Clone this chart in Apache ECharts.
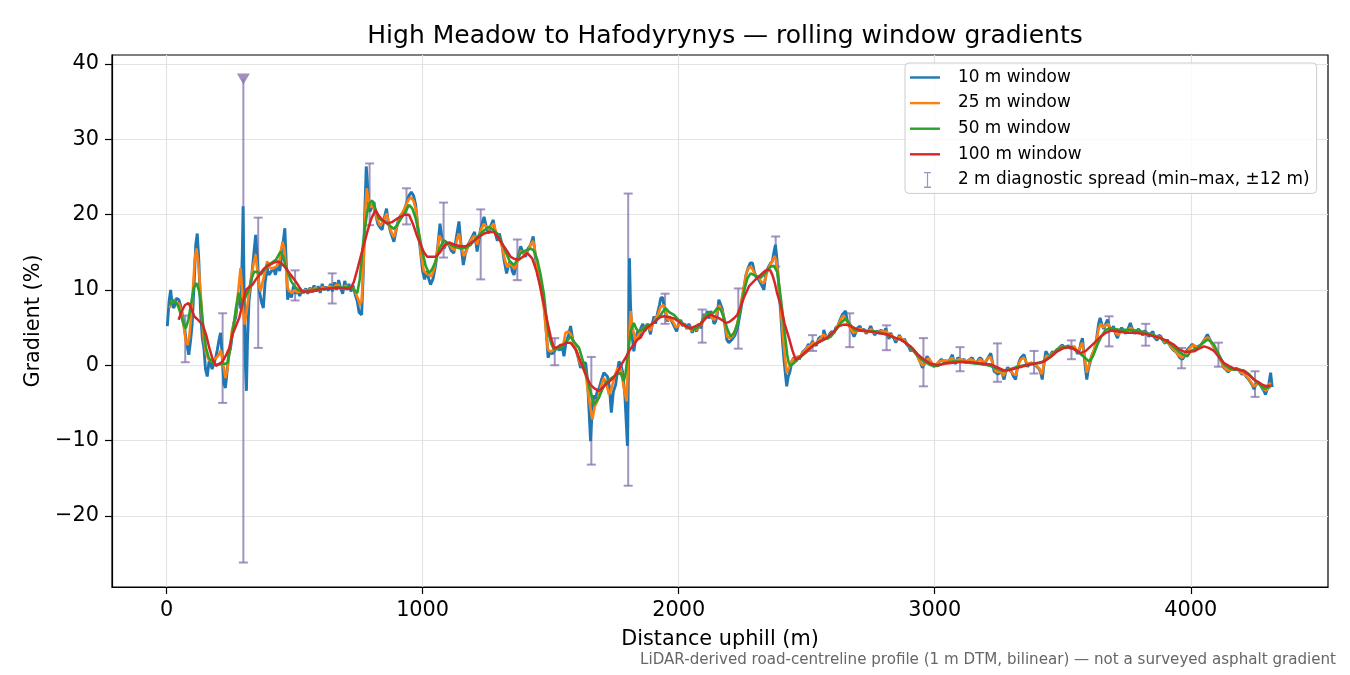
<!DOCTYPE html>
<html>
<head>
<meta charset="utf-8">
<title>High Meadow to Hafodyrynys — rolling window gradients</title>
<script src="https://cdn.jsdelivr.net/npm/echarts@6/dist/echarts.min.js"></script>
<style>
  html, body { margin: 0; padding: 0; background: #fff; }
  #chart { width: 1350px; height: 675px; }
</style>
</head>
<body>
<div id="chart"></div>
<script>
// rolling-window gradient profiles, [distance m, gradient %]
const w10 = [[3,5.2],[10,8.5],[16,10.0],[22,8.0],[29,7.6],[38,8.9],[48,8.7],[58,7.5],[68,5.4],[78,3.0],[87,1.4],[93,3.0],[100,5.4],[108,11],[114,16],[120,17.5],[126,14],[133,7],[140,3.5],[146,2.3],[152,-0.5],[159,-1.5],[166,0.5],[172,0.2],[178,-0.5],[185,-0.35],[192,1.0],[198,2.0],[204,3.2],[211,4.3],[217,1.5],[224,-2.5],[230,-3.0],[236,-1],[243,1.5],[250,2.3],[258,4.5],[265,5.8],[270,6.3],[278,8.5],[285,9.0],[290,7.5],[296,15],[299,21.1],[303,10],[308,0],[312,-3.4],[316,3],[322,8.5],[330,11],[340,14.5],[348,17.3],[355,14],[362,10],[370,8.5],[378,7.6],[385,11],[393,12.9],[400,12.0],[410,12.5],[418,13.0],[425,12.0],[435,13.5],[442,12.5],[450,14.5],[456,16.5],[462,18.2],[467,14],[473,8.7],[480,9.8],[488,9.0],[496,10.5],[504,9.5],[512,10.0],[520,9.2],[528,9.9],[536,9.6],[544,10.2],[552,9.5],[560,10.3],[568,9.7],[576,10.6],[584,9.8],[592,10.5],[600,9.6],[608,10.8],[616,10.0],[624,10.4],[632,9.9],[640,10.8],[648,9.8],[656,11.0],[664,10.0],[672,11.3],[680,10.2],[688,9.5],[696,11.2],[704,10.0],[712,10.8],[720,9.8],[728,10.6],[736,9.5],[745,8.5],[752,7.0],[762,6.7],[768,12],[774,20],[780,26.4],[785,24],[790,21],[794,20.4],[802,21.0],[810,21.7],[817,20],[825,18.8],[834,18.3],[842,18.0],[850,19.5],[859,20.8],[866,19],[875,17.7],[882,17.0],[888,16.4],[897,18],[907,19.5],[917,20.0],[927,20.4],[937,21.5],[946,22.5],[956,23.0],[965,22.5],[973,21.3],[982,18],[992,15.1],[1000,12.5],[1008,11.4],[1016,12.5],[1024,11.5],[1031,10.7],[1041,11.5],[1051,13.3],[1060,16],[1068,18.8],[1075,17],[1083,15.5],[1093,16.2],[1103,16.0],[1112,15.2],[1122,14.9],[1132,17],[1142,19.1],[1150,16],[1159,13.3],[1168,15],[1178,16.0],[1190,16.8],[1203,17.7],[1213,15.1],[1226,18],[1240,19.7],[1250,18.2],[1258,17.5],[1266,18.5],[1276,19.3],[1284,17.5],[1292,16.5],[1300,17.5],[1310,16.0],[1318,14],[1328,12.2],[1337,13.5],[1344,13.8],[1350,12.5],[1357,12.0],[1363,12.2],[1370,14],[1383,15.8],[1392,15],[1402,14.4],[1412,15.5],[1422,16],[1432,17.1],[1440,14.5],[1450,12],[1462,10.5],[1474,8.5],[1482,5],[1490,1.0],[1498,1.8],[1507,1.5],[1516,2.0],[1526,2.3],[1535,2.0],[1545,2.5],[1552,1.2],[1560,3],[1570,4],[1578,5.2],[1586,3.5],[1594,2.5],[1604,1.5],[1617,-0.35],[1627,0.3],[1637,0.3],[1644,-2],[1650,-6],[1656,-10.1],[1662,-6],[1669,-4],[1675,-4.5],[1682,-3.5],[1690,-3.0],[1698,-2.0],[1708,-1.0],[1715,-0.8],[1722,-1.5],[1730,-3],[1737,-6.3],[1745,-3.5],[1754,-2.6],[1760,-1],[1767,0.5],[1775,0],[1782,-1],[1790,-4],[1796,-8],[1800,-10.7],[1804,0],[1808,14.2],[1812,8],[1818,4],[1825,1.85],[1832,3.5],[1840,4.5],[1846,3.5],[1852,4.9],[1860,5.5],[1868,4.5],[1877,5.5],[1884,5.0],[1890,4.1],[1897,5.5],[1904,6.5],[1910,5.5],[1918,7],[1925,8],[1930,8.9],[1938,9.0],[1944,7.5],[1950,7],[1956,5.8],[1963,6.5],[1970,6.5],[1978,5.5],[1985,5.0],[1992,4.5],[2000,5.5],[2008,6.0],[2016,5.2],[2024,5.5],[2032,4.8],[2040,5.5],[2047,5.0],[2053,4.3],[2060,5.0],[2070,4.5],[2080,5.5],[2086,4.9],[2094,6.0],[2100,6.8],[2106,6.5],[2112,7.2],[2120,6.2],[2125,7.2],[2132,6.5],[2138,5.5],[2144,5.8],[2150,6.5],[2157,8.7],[2164,8.9],[2170,7.5],[2178,6],[2188,3.4],[2196,3.0],[2203,3.2],[2210,3.5],[2220,4.0],[2230,5],[2242,7.2],[2255,10.2],[2263,12],[2271,12.9],[2280,13.6],[2288,13.6],[2295,12.5],[2301,11.8],[2310,11.5],[2318,11.0],[2326,10.5],[2333,10.0],[2340,12],[2350,13],[2358,13.5],[2366,13.8],[2372,15],[2378,16.0],[2384,14],[2390,11],[2398,7.2],[2406,3.0],[2412,0.5],[2418,-1.5],[2422,-2.8],[2428,-1.5],[2435,-0.8],[2442,0.5],[2450,1.0],[2458,0.5],[2465,1.2],[2472,0.8],[2477,1.0],[2485,1.8],[2493,2.0],[2500,2.3],[2507,2.8],[2515,2.5],[2522,3.2],[2530,2.8],[2538,2.6],[2546,3.5],[2555,3.8],[2563,3.5],[2567,4.7],[2575,3.8],[2582,3.5],[2590,4.2],[2598,4.5],[2606,4.2],[2614,5.0],[2622,5.2],[2630,6.0],[2639,6.7],[2646,6.8],[2652,7.2],[2660,5.5],[2668,5.2],[2676,4.5],[2685,3.8],[2692,4.0],[2700,5.0],[2708,5.2],[2716,4.5],[2724,4.8],[2732,4.2],[2740,4.5],[2750,5.2],[2758,4.5],[2766,4.0],[2775,4.6],[2783,4.2],[2790,4.7],[2800,4.2],[2809,4.9],[2816,4.0],[2822,3.5],[2828,4.3],[2835,3.8],[2842,3.5],[2848,3.0],[2855,3.5],[2862,4.0],[2867,4.1],[2875,3.2],[2882,3.5],[2890,2.8],[2898,2.5],[2906,1.85],[2913,2.2],[2920,2.0],[2928,1.6],[2936,1.0],[2945,0.3],[2952,-0.35],[2958,-0.5],[2964,0.5],[2970,1.2],[2977,1.4],[2984,0.5],[2990,0.2],[2997,-0.2],[3004,0],[3010,0.2],[3018,0.5],[3026,0.8],[3034,0.5],[3042,0.6],[3050,0.4],[3060,0.8],[3069,1.4],[3075,0.5],[3082,0.2],[3090,1.0],[3098,0.8],[3106,0.6],[3114,0.8],[3122,0.3],[3130,0.6],[3138,0.8],[3146,1.0],[3154,0.5],[3161,0.2],[3168,0.6],[3176,1.0],[3184,0.8],[3190,0],[3198,0.4],[3205,0.8],[3212,1.2],[3219,1.6],[3225,0.5],[3232,-0.8],[3240,-1.0],[3248,-1.2],[3256,-0.8],[3264,-1.2],[3271,-1.9],[3278,-0.8],[3285,-0.3],[3292,-0.5],[3300,-0.9],[3308,-1.5],[3316,-1.9],[3322,-0.5],[3330,0.5],[3336,1.0],[3342,1.2],[3349,1.4],[3356,0.5],[3363,-0.2],[3370,0.2],[3378,0.3],[3385,0.4],[3393,0.0],[3400,-0.2],[3408,-0.5],[3414,-1.0],[3420,-1.9],[3426,0],[3434,1.85],[3440,1.5],[3446,1.0],[3452,1.4],[3460,1.8],[3468,1.6],[3475,2.0],[3483,2.2],[3491,2.5],[3499,2.7],[3506,2.3],[3514,2.4],[3522,2.6],[3530,2.2],[3538,2.5],[3545,2.7],[3552,2.0],[3558,1.5],[3565,2.0],[3571,3.0],[3577,3.6],[3583,1.5],[3589,-0.5],[3594,-1.9],[3600,-0.5],[3608,0.5],[3616,1.5],[3624,2.0],[3632,3.5],[3640,5.5],[3646,6.3],[3652,5.5],[3660,4.8],[3668,5.5],[3675,6.05],[3682,5.0],[3690,4.5],[3698,5.2],[3706,4.2],[3714,3.6],[3722,4.5],[3730,5.0],[3738,4.5],[3746,4.2],[3755,4.8],[3764,5.6],[3772,4.8],[3780,4.2],[3788,4.5],[3796,4.8],[3805,4.4],[3813,4.0],[3820,4.6],[3828,4.3],[3836,3.8],[3844,4.2],[3852,4.5],[3860,3.6],[3868,3.3],[3876,4.0],[3884,3.8],[3892,3.2],[3900,2.9],[3908,3.4],[3916,2.8],[3925,2.3],[3933,2.0],[3942,1.8],[3950,1.4],[3957,1.0],[3961,1.0],[3968,0.8],[3975,1.2],[3982,1.8],[3990,2.2],[3998,2.5],[4006,2.8],[4013,3.0],[4020,2.2],[4028,2.5],[4036,2.6],[4044,2.9],[4052,3.3],[4060,3.8],[4065,4.1],[4072,3.6],[4080,3.0],[4088,2.6],[4096,2.0],[4104,1.5],[4112,1.0],[4120,0.5],[4130,-0.35],[4138,-0.6],[4146,-0.9],[4154,-0.6],[4162,-0.4],[4170,-0.6],[4178,-0.4],[4186,-0.6],[4193,-0.9],[4200,-1.2],[4208,-1.0],[4216,-1.5],[4224,-1.8],[4232,-2.2],[4240,-2.6],[4247,-3.2],[4254,-2.6],[4262,-2.2],[4270,-2.5],[4278,-3.0],[4286,-3.4],[4292,-3.9],[4299,-3.9],[4305,-2.5],[4312,-1.0],[4318,-2.9]];

const w25 = [[13,7.6],[20,8.5],[29,8.7],[38,8.3],[48,8.2],[58,7.2],[68,5.0],[75,3.2],[81,2.7],[88,3.5],[95,6],[103,10],[110,14],[117,15.5],[124,13.5],[133,9.8],[140,5.5],[146,3.2],[155,1.5],[165,0.75],[175,0.5],[185,0.8],[195,1.0],[204,1.4],[212,2.0],[220,0.5],[230,-1.7],[238,-0.5],[246,2.0],[255,4.5],[265,6.0],[275,8.0],[282,10.5],[289,12.9],[295,10],[300,7],[305,5.4],[312,7],[320,9.0],[330,11.5],[340,13.5],[348,14.7],[355,12.5],[362,10.5],[367,9.8],[375,11],[385,12.5],[393,13.8],[402,13.0],[412,12.8],[422,13.0],[432,13.2],[442,14.0],[448,15.5],[453,16.4],[460,15.5],[466,13],[473,10.2],[480,9.8],[490,9.6],[500,10.0],[510,9.7],[520,9.8],[530,9.9],[540,10.0],[550,9.8],[560,10.1],[570,9.9],[580,10.3],[590,10.1],[600,10.0],[610,10.4],[620,10.1],[630,10.3],[640,10.5],[650,10.2],[660,10.6],[670,10.7],[680,10.3],[690,10.2],[700,10.6],[710,10.3],[720,10.4],[730,10.2],[740,9.5],[748,8.8],[755,8.0],[762,8.5],[770,14],[777,21],[782,23.5],[788,22],[795,21],[805,21.2],[815,20.2],[825,19.2],[835,18.5],[842,18.3],[852,19.5],[860,20.2],[870,18.5],[880,17.5],[888,17.0],[898,18.2],[908,19.3],[920,20.2],[932,21.0],[945,22.0],[955,22.3],[965,21.8],[975,20.5],[985,17.5],[995,14.5],[1005,12.5],[1015,12.2],[1025,12.0],[1035,11.8],[1045,12.8],[1055,14.5],[1065,17.2],[1072,16.8],[1083,15.8],[1095,16.0],[1105,16.0],[1115,15.5],[1125,15.3],[1135,16.8],[1142,17.5],[1150,16.0],[1160,14.5],[1170,15.0],[1180,16.0],[1192,16.8],[1203,17.2],[1213,16.0],[1225,17.8],[1240,18.8],[1250,18.3],[1260,18.0],[1270,18.5],[1278,18.8],[1288,17.5],[1298,17.0],[1310,15.8],[1320,14.2],[1330,13.0],[1340,13.5],[1350,13.2],[1360,12.8],[1370,13.8],[1383,15.2],[1395,14.8],[1405,14.8],[1415,15.5],[1425,16.2],[1432,16.5],[1440,15],[1450,12.5],[1462,10.0],[1474,7.5],[1482,4.5],[1490,2.0],[1500,1.8],[1510,2.0],[1520,2.2],[1530,2.3],[1540,2.4],[1550,2.8],[1558,4.3],[1568,4.5],[1578,4.2],[1590,3.0],[1600,2.0],[1612,0.5],[1625,-0.2],[1637,-1.2],[1650,-4.5],[1663,-7.2],[1672,-5.5],[1682,-4.8],[1695,-3.0],[1708,-1.7],[1718,-2.5],[1728,-3.9],[1738,-3.0],[1750,-1.5],[1760,-0.5],[1773,-0.35],[1786,-3.0],[1797,-4.8],[1804,2],[1812,7.2],[1820,5],[1832,3.2],[1842,4.0],[1852,4.5],[1862,5.0],[1872,4.8],[1882,5.0],[1890,4.6],[1900,5.6],[1910,6.2],[1920,6.8],[1930,7.8],[1940,8.0],[1950,7.0],[1958,6.0],[1968,6.2],[1978,5.8],[1990,5.0],[2000,5.3],[2010,5.6],[2020,5.3],[2030,5.0],[2040,5.1],[2050,4.6],[2060,4.8],[2070,4.7],[2080,5.2],[2090,5.5],[2100,6.5],[2112,6.8],[2122,6.8],[2132,6.2],[2140,6.0],[2150,7.0],[2158,8.0],[2165,8.2],[2172,7.0],[2180,5.5],[2190,3.8],[2200,3.6],[2210,3.8],[2220,4.5],[2232,6.0],[2242,8.0],[2255,10.5],[2265,12.3],[2275,13.0],[2285,13.0],[2295,12.3],[2305,11.8],[2315,11.5],[2325,11.0],[2335,11.0],[2345,12.3],[2355,13.2],[2365,13.8],[2375,14.5],[2382,13.8],[2390,11.5],[2398,8],[2406,4.5],[2414,1.5],[2422,-1.0],[2428,-0.8],[2436,0],[2445,0.8],[2455,0.8],[2465,1.1],[2475,1.2],[2485,1.7],[2495,2.0],[2505,2.5],[2515,2.6],[2525,3.0],[2535,2.8],[2545,3.2],[2555,3.6],[2565,4.1],[2575,3.8],[2585,3.8],[2595,4.2],[2605,4.3],[2615,4.8],[2625,5.5],[2635,6.2],[2645,6.6],[2652,6.5],[2662,5.5],[2672,4.8],[2682,4.3],[2692,4.4],[2702,4.8],[2712,4.8],[2722,4.6],[2732,4.4],[2742,4.6],[2752,4.8],[2762,4.3],[2772,4.4],[2782,4.4],[2792,4.5],[2802,4.4],[2812,4.5],[2822,3.9],[2832,4.0],[2842,3.6],[2852,3.4],[2862,3.8],[2872,3.5],[2882,3.3],[2892,2.9],[2902,2.4],[2912,2.0],[2922,1.8],[2932,1.2],[2942,0.5],[2952,0.0],[2960,0.1],[2970,0.8],[2978,0.9],[2988,0.3],[2998,0.0],[3008,0.2],[3018,0.5],[3028,0.6],[3038,0.6],[3048,0.6],[3058,0.7],[3068,1.0],[3078,0.5],[3088,0.7],[3098,0.8],[3108,0.7],[3118,0.6],[3128,0.5],[3138,0.8],[3148,0.7],[3158,0.4],[3168,0.5],[3178,0.8],[3188,0.4],[3198,0.5],[3208,0.9],[3218,1.1],[3228,0.0],[3238,-0.8],[3248,-0.9],[3258,-0.9],[3268,-1.4],[3278,-0.8],[3288,-0.5],[3298,-0.8],[3308,-1.2],[3318,-1.3],[3328,0.2],[3338,0.8],[3348,1.0],[3358,0.4],[3368,0.1],[3378,0.3],[3388,0.2],[3398,-0.1],[3408,-0.4],[3418,-1.2],[3428,0.3],[3436,1.3],[3446,1.1],[3456,1.5],[3466,1.7],[3476,2.0],[3486,2.2],[3496,2.5],[3506,2.4],[3516,2.5],[3526,2.4],[3536,2.4],[3546,2.5],[3556,1.8],[3566,2.2],[3576,3.0],[3584,1.5],[3594,-1.0],[3602,0],[3612,1.2],[3622,2.0],[3632,3.3],[3640,4.8],[3648,5.5],[3658,5.0],[3668,5.3],[3678,5.5],[3688,4.8],[3698,4.8],[3708,4.2],[3718,4.0],[3728,4.6],[3738,4.5],[3748,4.4],[3758,4.8],[3766,5.0],[3776,4.6],[3786,4.4],[3796,4.6],[3806,4.3],[3816,4.3],[3826,4.3],[3836,4.0],[3846,4.1],[3856,4.0],[3866,3.6],[3876,3.8],[3886,3.6],[3896,3.1],[3906,3.1],[3916,2.8],[3926,2.3],[3936,2.0],[3946,1.6],[3956,1.2],[3966,1.0],[3976,1.3],[3986,1.8],[3996,2.3],[4006,2.6],[4016,2.6],[4026,2.4],[4036,2.6],[4046,3.0],[4056,3.5],[4066,3.7],[4076,3.3],[4086,2.6],[4096,2.0],[4106,1.4],[4116,0.8],[4126,0.0],[4136,-0.5],[4146,-0.7],[4156,-0.6],[4166,-0.5],[4176,-0.5],[4186,-0.6],[4196,-1.0],[4206,-1.1],[4216,-1.4],[4226,-1.8],[4236,-2.3],[4246,-2.8],[4256,-2.6],[4266,-2.4],[4276,-2.8],[4286,-3.2],[4296,-3.4],[4306,-2.6],[4312,-2.3]];

const w50 = [[13,8.0],[25,8.6],[36,8.4],[46,7.8],[56,6.7],[66,5.5],[75,4.9],[85,6.0],[95,8.0],[106,10.2],[117,10.9],[126,10.0],[134,8.5],[144,5.0],[154,2.3],[165,1.0],[180,0.3],[193,0.1],[206,0.1],[220,0.2],[230,0.2],[238,0.3],[248,2.0],[256,4.0],[264,5.8],[272,7.8],[281,9.6],[290,8.8],[297,8.0],[305,8.8],[314,9.5],[323,10.2],[332,11.5],[342,12.4],[355,12.4],[368,12.0],[380,12.6],[394,13.3],[410,13.6],[427,14.0],[437,14.6],[446,15.1],[455,14.5],[464,13.3],[473,12.4],[486,11.2],[499,10.5],[515,10.0],[531,9.8],[550,9.9],[570,10.0],[590,10.1],[610,10.1],[630,10.2],[650,10.3],[670,10.4],[690,10.3],[710,10.4],[725,10.3],[735,9.9],[745,9.6],[755,11.5],[764,15.1],[774,18.0],[784,20.4],[793,21.5],[803,21.9],[815,20.8],[829,19.5],[842,19.2],[855,19.1],[870,18.6],[888,18.1],[904,18.8],[920,19.7],[935,20.5],[947,21.3],[960,20.8],[973,19.5],[986,17.5],[999,15.1],[1012,13.2],[1025,12.2],[1038,12.8],[1051,13.8],[1066,15.5],[1083,16.6],[1096,16.3],[1109,16.0],[1128,15.7],[1148,15.5],[1168,15.6],[1188,16.0],[1208,16.8],[1227,17.5],[1243,18.0],[1259,18.4],[1275,18.0],[1292,17.5],[1308,16.4],[1324,15.1],[1340,13.8],[1357,13.3],[1370,14.0],[1383,14.9],[1402,15.2],[1422,15.5],[1435,15.2],[1448,14.0],[1461,12.0],[1474,9.4],[1483,6.5],[1493,4.1],[1503,2.8],[1513,2.1],[1530,2.2],[1545,2.4],[1560,3.1],[1578,3.8],[1594,3.0],[1611,2.3],[1624,0.8],[1637,-0.8],[1652,-3.0],[1669,-5.2],[1689,-4.3],[1702,-3.2],[1715,-2.3],[1730,-1.9],[1747,-1.5],[1760,-1.2],[1773,-1.0],[1786,-2.1],[1793,-1.0],[1800,1.0],[1812,4.5],[1825,5.6],[1835,4.8],[1845,4.5],[1860,4.8],[1878,5.4],[1890,5.3],[1905,5.8],[1923,6.3],[1936,7.0],[1949,7.6],[1965,7.0],[1982,6.7],[2000,6.0],[2021,5.4],[2040,4.9],[2060,4.7],[2080,5.2],[2099,6.3],[2118,6.9],[2138,7.0],[2151,7.6],[2164,7.4],[2177,6.3],[2190,4.8],[2203,3.8],[2216,4.3],[2229,5.4],[2242,7.5],[2255,9.8],[2268,11.5],[2281,12.2],[2300,11.9],[2320,11.6],[2340,12.3],[2359,13.1],[2372,13.2],[2385,12.4],[2395,10.0],[2405,7.2],[2415,4.0],[2424,1.4],[2430,0.3],[2437,-0.1],[2450,0.3],[2464,0.75],[2483,1.3],[2503,1.85],[2522,2.5],[2542,3.0],[2568,3.4],[2594,3.8],[2614,4.7],[2633,5.6],[2652,6.2],[2668,5.5],[2685,4.7],[2705,4.6],[2724,4.6],[2743,4.5],[2763,4.5],[2790,4.3],[2815,4.0],[2840,3.7],[2867,3.4],[2886,3.0],[2906,2.3],[2932,1.3],[2958,0.5],[2984,0.0],[3010,-0.1],[3040,0.3],[3065,0.5],[3088,0.5],[3115,0.4],[3140,0.3],[3167,0.2],[3193,0.1],[3219,-0.1],[3245,-0.5],[3271,-0.8],[3297,-0.5],[3323,-0.2],[3349,0.0],[3380,0.2],[3414,0.3],[3446,1.0],[3479,2.1],[3499,2.4],[3518,2.5],[3540,2.3],[3557,1.85],[3580,1.2],[3603,0.5],[3618,1.2],[3635,2.7],[3650,3.8],[3668,4.7],[3688,4.9],[3720,4.7],[3753,4.7],[3785,4.6],[3818,4.4],[3845,4.1],[3870,3.8],[3896,3.3],[3922,2.8],[3942,2.2],[3961,1.6],[3975,1.3],[3987,1.2],[4000,1.9],[4026,2.3],[4045,2.9],[4065,3.4],[4078,3.2],[4091,2.7],[4110,1.4],[4130,0.1],[4150,-0.4],[4169,-0.6],[4190,-0.6],[4208,-0.7],[4228,-1.2],[4247,-1.9],[4267,-2.5],[4286,-3.1],[4300,-3.0],[4312,-2.9]];

const w100 = [[47,6.05],[60,7.2],[72,8.0],[86,8.25],[97,7.5],[108,6.5],[124,6.0],[141,5.4],[155,4.0],[167,2.3],[180,0.8],[193,-0.1],[206,0.2],[219,0.5],[232,1.3],[245,2.3],[258,4.1],[271,5.2],[284,6.3],[297,8.2],[310,10.0],[323,10.4],[336,10.7],[349,11.4],[362,12.0],[380,12.8],[401,13.3],[417,13.6],[434,13.8],[450,13.5],[466,12.9],[485,12.0],[505,11.1],[518,10.4],[531,9.8],[550,9.8],[570,9.8],[600,10.1],[635,10.2],[670,10.3],[700,10.2],[719,10.2],[732,11.1],[745,12.7],[758,14.4],[771,16.0],[784,17.7],[800,19.5],[816,20.6],[830,19.8],[846,19.2],[862,18.8],[880,19.0],[897,19.4],[914,19.7],[930,20.0],[947,20.0],[962,18.8],[979,17.1],[995,15.8],[1005,15.0],[1018,14.4],[1035,14.4],[1051,14.4],[1068,15.0],[1085,15.9],[1103,16.3],[1125,16.0],[1148,15.8],[1168,15.8],[1188,16.2],[1215,16.9],[1240,17.5],[1260,17.7],[1278,17.7],[1295,17.0],[1313,16.0],[1331,15.1],[1344,14.4],[1360,14.1],[1376,14.0],[1392,14.4],[1409,14.9],[1428,14.2],[1445,12.5],[1461,10.2],[1474,8.0],[1487,5.8],[1500,3.8],[1513,2.3],[1526,2.4],[1539,2.7],[1552,2.8],[1565,3.0],[1578,3.0],[1598,2.1],[1611,1.0],[1624,-0.1],[1640,-1.5],[1656,-2.6],[1672,-3.1],[1689,-3.4],[1708,-2.8],[1728,-2.2],[1747,-1.6],[1765,-0.7],[1780,0.3],[1793,1.0],[1806,1.85],[1825,2.8],[1839,3.4],[1852,3.7],[1864,4.5],[1877,5.0],[1890,5.3],[1904,5.7],[1917,6.1],[1930,6.4],[1943,6.5],[1960,6.4],[1982,6.2],[2008,5.6],[2028,5.2],[2047,4.9],[2066,5.2],[2086,5.5],[2105,6.2],[2125,6.7],[2140,6.5],[2155,6.3],[2170,6.0],[2184,5.6],[2200,5.8],[2215,6.2],[2229,6.7],[2242,7.8],[2255,9.0],[2275,10.5],[2298,11.3],[2320,12.0],[2333,12.4],[2346,12.7],[2358,12.6],[2366,12.0],[2375,11.0],[2385,9.5],[2398,8.0],[2414,5.5],[2431,3.6],[2444,2.0],[2457,0.75],[2470,1.0],[2490,1.6],[2510,2.2],[2529,2.7],[2555,3.2],[2581,3.7],[2604,4.4],[2626,5.2],[2645,5.4],[2665,5.3],[2690,4.9],[2711,4.6],[2737,4.5],[2763,4.4],[2790,4.2],[2815,4.1],[2840,3.7],[2867,3.4],[2886,3.0],[2906,2.5],[2932,1.5],[2958,0.75],[2984,0.2],[3010,0.0],[3036,0.2],[3063,0.3],[3088,0.4],[3114,0.45],[3140,0.4],[3167,0.3],[3193,0.2],[3219,0.1],[3245,-0.3],[3271,-0.7],[3297,-0.6],[3323,-0.35],[3349,-0.1],[3375,0.1],[3400,0.3],[3427,0.5],[3453,1.1],[3479,1.85],[3505,2.3],[3531,2.4],[3550,2.0],[3570,1.6],[3590,1.9],[3609,2.5],[3628,3.1],[3648,3.8],[3668,4.3],[3688,4.6],[3710,4.5],[3730,4.4],[3753,4.3],[3780,4.3],[3805,4.2],[3831,4.1],[3857,3.8],[3883,3.6],[3909,3.2],[3935,2.7],[3955,2.1],[3974,1.8],[3993,1.8],[4013,1.85],[4032,2.2],[4052,2.5],[4070,2.3],[4091,1.9],[4110,1.1],[4130,0.3],[4150,-0.1],[4169,-0.45],[4189,-0.6],[4208,-0.8],[4228,-1.3],[4247,-1.9],[4266,-2.3],[4286,-2.7],[4300,-2.8],[4312,-2.7]];

// 2 m diagnostic spread (min–max over ±12 m)
const spreadX  = [73,219,300,358,502,647,793,937,1082,1227,1370,1516,1659,1803,1947,2092,2233,2379,2523,2668,2812,2956,3099,3245,3388,3534,3681,3824,3964,4108,4251];
const spreadLo = [0.4,-5.0,-26.2,2.3,8.6,8.2,18.6,18.7,14.3,11.4,11.3,0.0,-13.2,-16.0,5.5,3.0,2.2,13.1,1.9,2.4,2.0,-2.8,-0.8,-2.2,-1.1,0.8,2.5,2.6,-0.4,-0.2,-4.2];
const spreadHi = [6.6,6.9,38,19.6,12.6,12.2,26.8,23.5,21.6,20.7,16.7,3.6,1.1,22.8,9.5,7.4,10.2,17.1,4.0,6.9,5.3,3.6,2.4,2.9,1.9,3.3,6.5,5.5,2.3,3.0,-0.8];
// spread maxima that run off the top: drawn as a marker at the clip value
const clippedX = [300];
const clippedY = [38];

const xTicks = [0, 1000, 2000, 3000, 4000];
const yTicks = [-20, -10, 0, 10, 20, 30, 40];

const FONT = 'DejaVu Sans';
const C10 = '#1f77b4', C25 = '#ff7f0e', C50 = '#2ca02c', C100 = '#d62728';
const SPREAD = 'rgba(136,118,176,0.78)';
const SPREAD_NAME = '2 m diagnostic spread (min\u2013max, \u00b112 m)';
// legend handles: a short line, and an error-bar "I"
const LINE_ICON = 'path://M0,0M0,5.8H30V8.2H0ZM30,14';
const BAR_ICON = 'path://M0,0M14,0H21V1.3H18.1V14.7H21V16H14V14.7H16.9V1.3H14ZM30,16';

const chart = echarts.init(document.getElementById('chart'), null, { renderer: 'canvas' });

const minus = v => v < 0 ? '\u2212' + Math.abs(v) : String(v);

function lineSeries(name, data, color, width, z) {
  return {
    name, type: 'line', data, z,
    symbol: 'none', showSymbol: false, smooth: false, sampling: null,
    lineStyle: { color, width },
    itemStyle: { color },
    emphasis: { disabled: true },
    clip: true
  };
}

const spreadData = spreadX.map((x, i) => [x, spreadLo[i], spreadHi[i], clippedX.includes(x) ? 1 : 0]);

const option = {
  animation: false,
  backgroundColor: '#ffffff',
  textStyle: { fontFamily: FONT },
  title: {
    text: 'High Meadow to Hafodyrynys \u2014 rolling window gradients',
    left: 720, top: 19, textAlign: 'center',
    textStyle: { fontFamily: FONT, fontSize: 25, fontWeight: 'normal', color: '#000' }
  },
  grid: {
    left: 112, top: 55, width: 1216, height: 532,
    show: true, borderColor: '#000', borderWidth: 1.2, backgroundColor: 'transparent'
  },
  legend: {
    orient: 'vertical',
    left: 905, top: 63,
    padding: [6, 7, 5, 5],
    itemWidth: 30, itemHeight: 16, itemGap: 8.6,
    backgroundColor: 'rgba(255,255,255,0.8)',
    borderColor: '#cccccc', borderWidth: 1, borderRadius: 4,
    textStyle: { fontFamily: FONT, fontSize: 16.9, color: '#000', padding: [0, 0, 0, 13] },
    selectedMode: false,
    data: [
      { name: '10 m window', icon: LINE_ICON, itemStyle: { color: C10 } },
      { name: '25 m window', icon: LINE_ICON, itemStyle: { color: C25 } },
      { name: '50 m window', icon: LINE_ICON, itemStyle: { color: C50 } },
      { name: '100 m window', icon: LINE_ICON, itemStyle: { color: C100 } },
      { name: SPREAD_NAME, icon: BAR_ICON, itemStyle: { color: SPREAD } }
    ]
  },
  xAxis: {
    type: 'value', min: -213, max: 4536,
    name: 'Distance uphill (m)', nameLocation: 'middle', nameGap: 42,
    nameTextStyle: { fontFamily: FONT, fontSize: 20.8, color: '#000' },
    axisLine: { show: true, onZero: false, lineStyle: { color: '#000', width: 1.2 } },
    axisTick: { show: true, length: 7, inside: false, customValues: xTicks, lineStyle: { color: '#000', width: 1.2 } },
    axisLabel: { customValues: xTicks, margin: 13, fontFamily: FONT, fontSize: 20.8, color: '#000', formatter: v => String(v) },
    splitLine: { show: true, lineStyle: { color: '#e3e3e3', width: 1.2 } }
  },
  yAxis: {
    type: 'value', min: -29.45, max: 41.2,
    name: 'Gradient (%)', nameLocation: 'middle', nameGap: 64, nameRotate: 90,
    nameTextStyle: { fontFamily: FONT, fontSize: 20.8, color: '#000' },
    axisLine: { show: true, onZero: false, lineStyle: { color: '#000', width: 1.2 } },
    axisTick: { show: true, length: 7, inside: false, customValues: yTicks, lineStyle: { color: '#000', width: 1.2 } },
    axisLabel: { customValues: yTicks, margin: 13, fontFamily: FONT, fontSize: 20.8, color: '#000', formatter: minus },
    splitLine: { show: true, lineStyle: { color: '#e3e3e3', width: 1.2 } }
  },
  series: [
    {
      name: SPREAD_NAME, type: 'custom', z: 1, clip: true,
      itemStyle: { color: SPREAD },
      encode: { x: 0, y: [1, 2] },
      data: spreadData,
      renderItem: function (params, api) {
        const x = api.value(0), lo = api.value(1), hi = api.value(2), clipped = api.value(3);
        const pLo = api.coord([x, lo]);
        const pHi = api.coord([x, hi]);
        const cap = 4.5;
        const st = { stroke: SPREAD, lineWidth: 2 };
        const children = [
          { type: 'line', shape: { x1: pLo[0], y1: pLo[1], x2: pHi[0], y2: pHi[1] }, style: st },
          { type: 'line', shape: { x1: pLo[0] - cap, y1: pLo[1], x2: pLo[0] + cap, y2: pLo[1] }, style: st }
        ];
        if (!clipped) {
          children.push({ type: 'line', shape: { x1: pHi[0] - cap, y1: pHi[1], x2: pHi[0] + cap, y2: pHi[1] }, style: st });
        }
        return { type: 'group', children };
      }
    },
    {
      name: 'clipped', type: 'scatter', z: 6,
      symbol: 'triangle', symbolRotate: 180, symbolSize: [13, 11],
      itemStyle: { color: '#8876ab' },
      data: clippedX.map((x, i) => [x, clippedY[i]]),
      emphasis: { disabled: true }
    },
    lineSeries('10 m window', w10, C10, 2.9, 2),
    lineSeries('25 m window', w25, C25, 2.6, 3),
    lineSeries('50 m window', w50, C50, 2.6, 4),
    lineSeries('100 m window', w100, C100, 2.5, 5)
  ],
  graphic: [
    {
      type: 'text', x: 1336, y: 660,
      style: {
        text: 'LiDAR-derived road-centreline profile (1 m DTM, bilinear) \u2014 not a surveyed asphalt gradient',
        fontFamily: FONT, fontSize: 15.1, fill: '#666666', align: 'right', verticalAlign: 'middle'
      }
    }
  ]
};

chart.setOption(option);
</script>
</body>
</html>
